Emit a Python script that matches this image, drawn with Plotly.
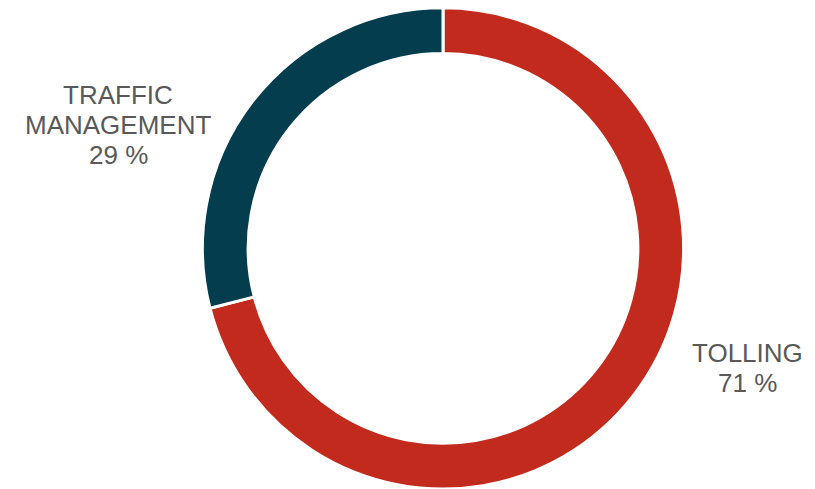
import plotly.graph_objects as go

labels = ["TOLLING", "TRAFFIC MANAGEMENT"]
values = [71, 29]
colors = ["#C22A1E", "#033D4E"]
label_lines = [["TOLLING"], ["TRAFFIC", "MANAGEMENT"]]

W, H = 815, 489

fig = go.Figure(go.Pie(
    labels=labels,
    values=values,
    hole=0.81,
    sort=False,
    direction="clockwise",
    rotation=0,
    marker=dict(colors=colors, line=dict(color="white", width=3)),
    textinfo="none",
    hoverinfo="label+percent",
    domain=dict(x=[202 / W, 684 / W], y=[0.0, 0.984]),
    showlegend=False,
))

# label anchor positions (pixel centres of the text blocks)
anchors = [(747, 353), (118, 95)]
pitch = 30
annotations = []
total = sum(values)
for lines, v, (cx, cy) in zip(label_lines, values, anchors):
    all_lines = lines + [f"{round(100 * v / total)} %"]
    for i, t in enumerate(all_lines):
        annotations.append(dict(
            text=t, x=cx / W, y=1 - (cy + i * pitch) / H,
            xref="paper", yref="paper", xanchor="center", yanchor="middle",
            showarrow=False,
            font=dict(family="Liberation Sans, Arial", size=26, color="#595959"),
        ))

fig.update_layout(
    width=W, height=H,
    margin=dict(l=0, r=0, t=0, b=0),
    paper_bgcolor="white", plot_bgcolor="white",
    annotations=annotations,
)

fig.write_html("out.html", config={"displayModeBar": False},
               post_script="document.body.style.margin='0';")
